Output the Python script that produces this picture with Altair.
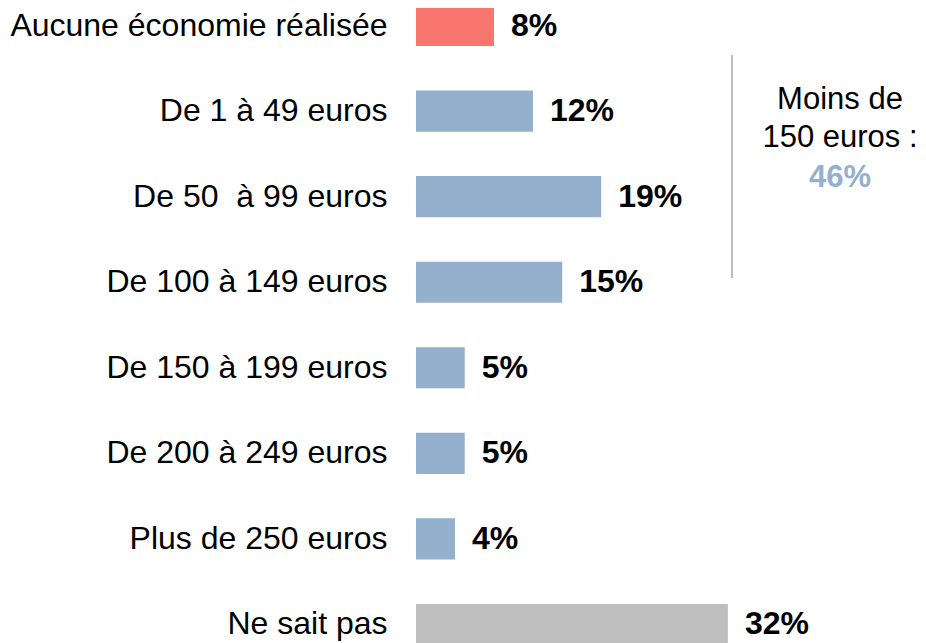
import altair as alt
import pandas as pd

categories = [
    "Aucune économie réalisée",
    "De 1 à 49 euros",
    "De 50\u00a0 à 99 euros",
    "De 100 à 149 euros",
    "De 150 à 199 euros",
    "De 200 à 249 euros",
    "Plus de 250 euros",
    "Ne sait pas",
]
values = [8, 12, 19, 15, 5, 5, 4, 32]
groups = ["none", "amount", "amount", "amount", "amount", "amount", "amount", "unknown"]
annotation_lines = ["Moins de", "150 euros :", "46%"]

df = pd.DataFrame({
    "cat": categories,
    "val": values,
    "grp": groups,
    "label": [f"{v}%" for v in values],
})

FONT = "Liberation Sans"
FS = 32

y_enc = alt.Y(
    "cat:N",
    sort=categories,
    scale=alt.Scale(range=[-3, 637], paddingInner=0.52, paddingOuter=0),
    axis=alt.Axis(
        title=None, domain=False, ticks=False, labelPadding=29, labelLimit=0,
        labelFontSize=FS, labelFont=FONT, labelColor="#000000", grid=False,
    ),
)
x_scale = alt.Scale(domain=[0, 51.5], nice=False, zero=True)

base = alt.Chart(df)

bars = base.mark_bar().encode(
    x=alt.X("val:Q", scale=x_scale, axis=None),
    y=y_enc,
    color=alt.Color(
        "grp:N",
        scale=alt.Scale(domain=["none", "amount", "unknown"],
                        range=["#F8766D", "#95B0CD", "#BFBFBF"]),
        legend=None,
    ),
)

labels = base.mark_text(
    align="left", baseline="middle", dx=17, fontSize=FS, fontWeight="bold",
    font=FONT, color="#000000",
).encode(
    x=alt.X("val:Q", scale=x_scale, axis=None),
    y=y_enc,
    text="label:N",
)

rule = alt.Chart(pd.DataFrame({"a": [0]})).mark_rule(color="#BFBFBF", strokeWidth=2).encode(
    x=alt.value(316), y=alt.value(47), y2=alt.value(270)
)

def ann(line, ypos, bold=False, color="#000000"):
    return alt.Chart(pd.DataFrame({"line": [line]})).mark_text(
        align="center", baseline="middle", fontSize=31, font=FONT, color=color,
        fontWeight="bold" if bold else "normal",
    ).encode(x=alt.value(424), y=alt.value(ypos), text="line:N")

ann1 = ann(annotation_lines[0], 92)
ann2 = ann(annotation_lines[1], 130)
ann3 = ann(annotation_lines[2], 170, bold=True, color="#95B0CD")

chart = alt.layer(bars, labels, rule, ann1, ann2, ann3).properties(
    width=502, height=635,
    autosize=alt.AutoSizeParams(type="none"),
    padding={"left": 408, "top": 0, "right": 0, "bottom": 0},
).configure_view(stroke=None)

chart.save("out.html", embed_options={"renderer": "svg", "actions": False})
